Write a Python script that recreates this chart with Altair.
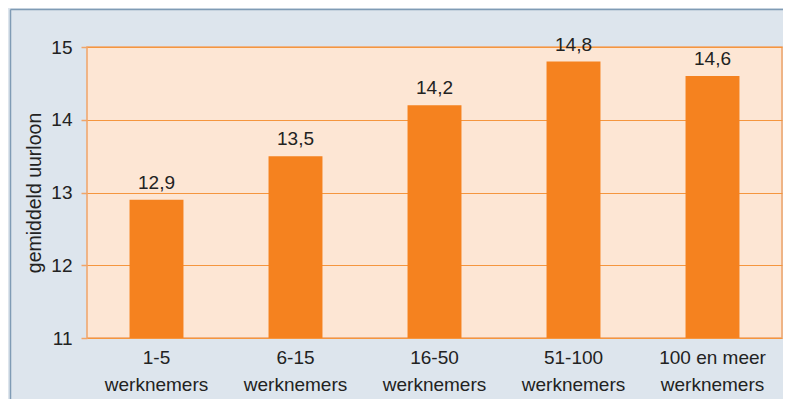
import altair as alt
import pandas as pd

categories = ["1-5 werknemers", "6-15 werknemers", "16-50 werknemers",
              "51-100 werknemers", "100 en meer werknemers"]
values = [12.9, 13.5, 14.2, 14.8, 14.6]
y_ticks = [11, 12, 13, 14, 15]

df = pd.DataFrame({
    "cat": categories,
    "val": values,
    "lbl": [f"{v:.1f}".replace(".", ",") for v in values],
})

FONT = "Liberation Sans"
ORANGE = "#f5821f"

x = alt.X("cat:N", sort=categories, title=None,
          scale=alt.Scale(paddingInner=0.612, paddingOuter=0.306),
          axis=alt.Axis(labelAngle=0, ticks=False, domain=False,
                        labelFont=FONT, labelFontSize=19, labelColor="#222222",
                        labelPadding=10, labelLineHeight=27,
                        labelExpr="[replace(datum.label, ' werknemers', ''), 'werknemers']"))
y = alt.Y("val:Q", title="gemiddeld uurloon",
          scale=alt.Scale(domain=[11, 15], nice=False, zero=False),
          axis=alt.Axis(values=y_ticks, format="d", domain=False, tickColor="#f0a468",
                        tickSize=6, tickWidth=1.5,
                        gridColor="#f5963f", gridWidth=1.2,
                        labelFont=FONT, labelFontSize=19, labelColor="#222222",
                        labelPadding=9,
                        titleFont=FONT, titleFontSize=19.5, titleFontWeight="normal",
                        titleColor="#222222", titlePadding=6))

bars = alt.Chart(df).mark_bar(color=ORANGE, clip=True).encode(
    x=x, y=y, y2=alt.datum(11))
text = alt.Chart(df).mark_text(font=FONT, fontSize=19, color="#222222",
                               baseline="alphabetic", dy=-11).encode(
    x=alt.X("cat:N", sort=categories), y="val:Q", text="lbl:N")

border_df = pd.DataFrame({"a": [0]})
left_border = alt.Chart(border_df).mark_rule(color="#7f9bb5", strokeWidth=1.5).encode(
    x=alt.value(-76.5), y=alt.value(-37.5), y2=alt.value(360))
top_border = alt.Chart(border_df).mark_rule(color="#7f9bb5", strokeWidth=1.5).encode(
    x=alt.value(-76.5), x2=alt.value(720), y=alt.value(-37.5))

chart = alt.layer(bars, text, left_border, top_border).properties(
    width=695, height=291,
    background="#dde5ed",
    autosize=alt.AutoSizeParams(type="none"),
    padding={"left": 79, "top": 39, "right": 1, "bottom": 61},
).configure_view(
    fill="#fde6d4", stroke="#f0a468", strokeWidth=1.5
)

chart.save("out.html", embed_options={"renderer": "svg", "actions": False})
